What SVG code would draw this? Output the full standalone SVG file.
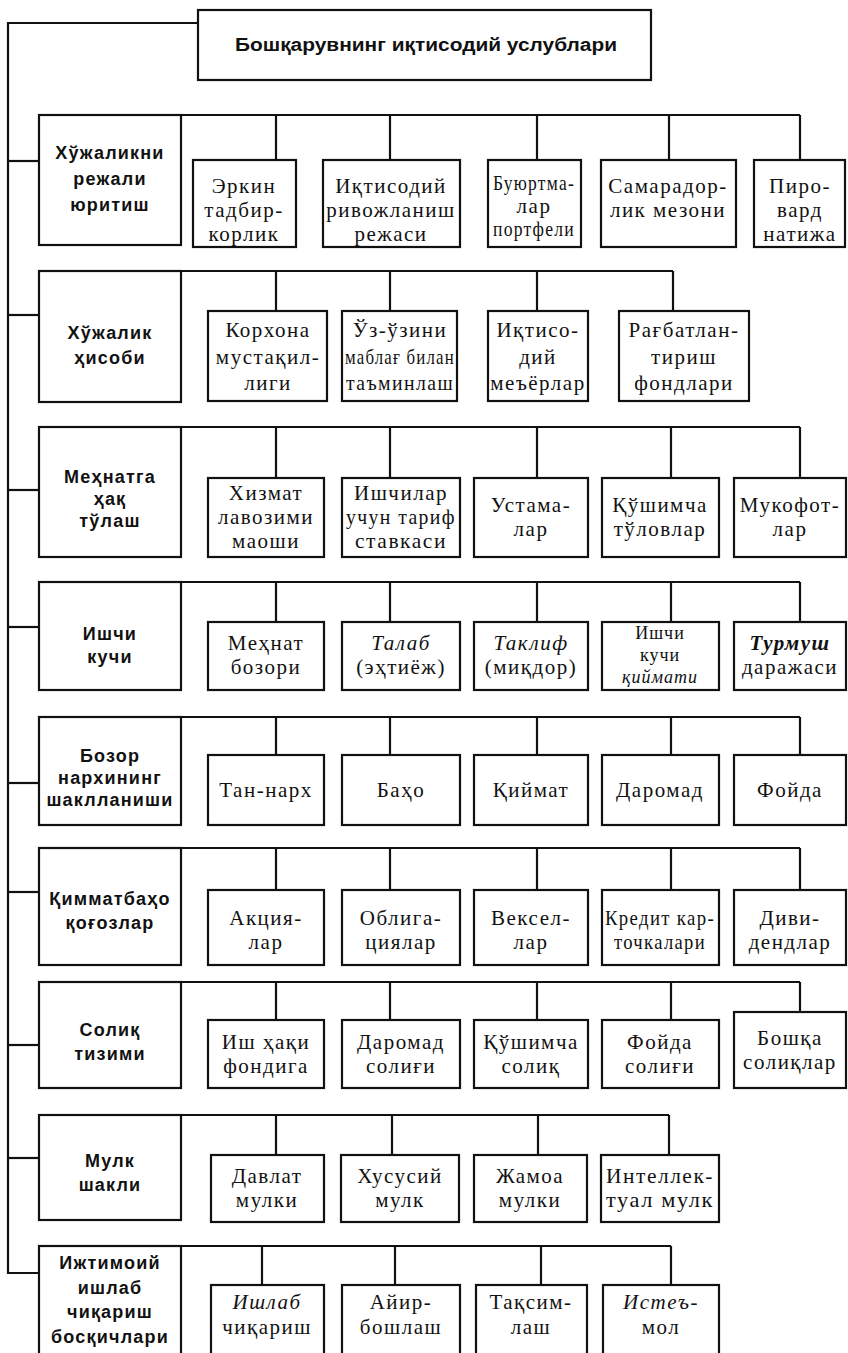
<svg xmlns="http://www.w3.org/2000/svg" width="848" height="1353" viewBox="0 0 848 1353">
<style>
.b{fill:#fff;stroke:#111;stroke-width:2.2}
.c line,.c polyline{stroke:#111;stroke-width:2.2;fill:none}
.t{font-family:"Liberation Serif","DejaVu Serif",serif;font-size:21px;letter-spacing:1.5px;text-anchor:middle;fill:#111}
.s{font-size:18px;letter-spacing:1px}
.h{font-family:"Liberation Sans","DejaVu Sans",sans-serif;font-size:18px;font-weight:bold;letter-spacing:1.2px;text-anchor:middle;fill:#111}
.i{font-style:italic}
.ttl{font-family:"Liberation Sans","DejaVu Sans",sans-serif;font-size:18px;font-weight:bold;text-anchor:middle;fill:#111}
</style>
<rect width="848" height="1353" fill="#fff"/>
<g class="c" id="connectors">
<polyline points="198,23 8,23 8,1273 39,1273"/>
<line x1="8" y1="161" x2="39" y2="161"/>
<line x1="8" y1="315" x2="39" y2="315"/>
<line x1="8" y1="490" x2="39" y2="490"/>
<line x1="8" y1="627" x2="39" y2="627"/>
<line x1="8" y1="783" x2="39" y2="783"/>
<line x1="8" y1="892" x2="39" y2="892"/>
<line x1="8" y1="1045" x2="39" y2="1045"/>
<line x1="8" y1="1158" x2="39" y2="1158"/>
<line x1="39" y1="115" x2="800" y2="115"/>
<line x1="276" y1="115" x2="276" y2="160"/><line x1="390" y1="115" x2="390" y2="160"/><line x1="537" y1="115" x2="537" y2="160"/><line x1="669" y1="115" x2="669" y2="160"/><line x1="800" y1="115" x2="800" y2="160"/>
<line x1="39" y1="271" x2="673" y2="271"/>
<line x1="276" y1="271" x2="276" y2="311"/><line x1="390" y1="271" x2="390" y2="311"/><line x1="537" y1="271" x2="537" y2="311"/><line x1="673" y1="271" x2="673" y2="311"/>
<line x1="39" y1="427" x2="800" y2="427"/>
<line x1="276" y1="427" x2="276" y2="478"/><line x1="390" y1="427" x2="390" y2="478"/><line x1="537" y1="427" x2="537" y2="478"/><line x1="671" y1="427" x2="671" y2="478"/><line x1="800" y1="427" x2="800" y2="478"/>
<line x1="39" y1="582" x2="800" y2="582"/>
<line x1="276" y1="582" x2="276" y2="622"/><line x1="390" y1="582" x2="390" y2="622"/><line x1="537" y1="582" x2="537" y2="622"/><line x1="671" y1="582" x2="671" y2="622"/><line x1="800" y1="582" x2="800" y2="622"/>
<line x1="39" y1="717" x2="800" y2="717"/>
<line x1="276" y1="717" x2="276" y2="755"/><line x1="390" y1="717" x2="390" y2="755"/><line x1="537" y1="717" x2="537" y2="755"/><line x1="671" y1="717" x2="671" y2="755"/><line x1="800" y1="717" x2="800" y2="755"/>
<line x1="39" y1="848" x2="800" y2="848"/>
<line x1="276" y1="848" x2="276" y2="890"/><line x1="390" y1="848" x2="390" y2="890"/><line x1="537" y1="848" x2="537" y2="890"/><line x1="671" y1="848" x2="671" y2="890"/><line x1="800" y1="848" x2="800" y2="890"/>
<line x1="39" y1="982" x2="800" y2="982"/>
<line x1="276" y1="982" x2="276" y2="1020"/><line x1="390" y1="982" x2="390" y2="1020"/><line x1="537" y1="982" x2="537" y2="1020"/><line x1="671" y1="982" x2="671" y2="1020"/><line x1="800" y1="982" x2="800" y2="1012"/>
<line x1="39" y1="1115" x2="669" y2="1115"/>
<line x1="276" y1="1115" x2="276" y2="1155"/><line x1="392" y1="1115" x2="392" y2="1155"/><line x1="538" y1="1115" x2="538" y2="1155"/><line x1="669" y1="1115" x2="669" y2="1155"/>
<line x1="39" y1="1246" x2="671" y2="1246"/>
<line x1="262" y1="1246" x2="262" y2="1285"/><line x1="395" y1="1246" x2="395" y2="1285"/><line x1="541" y1="1246" x2="541" y2="1285"/><line x1="671" y1="1246" x2="671" y2="1285"/>
</g>

<g id="title"><rect class="b" x="198" y="10" width="453" height="70"/>
<text class="ttl" x="426" y="51" textLength="382" lengthAdjust="spacingAndGlyphs">Бошқарувнинг  иқтисодий  услублари</text></g>

<g id="r1"><rect class="b" x="39" y="115" width="142" height="130"/>
<text class="h" x="110" y="159">Хўжаликни</text><text class="h" x="110" y="185">режали</text><text class="h" x="110" y="211">юритиш</text></g>
<g id="r1c1"><rect class="b" x="193" y="160" width="103" height="87"/>
<text class="t" x="244" y="193">Эркин</text><text class="t" x="244" y="217">тадбир-</text><text class="t" x="244" y="241">корлик</text></g>
<g id="r1c2"><rect class="b" x="323" y="160" width="137" height="87"/>
<text class="t" x="391" y="193">Иқтисодий</text><text class="t" x="391" y="217">ривожланиш</text><text class="t" x="391" y="241">режаси</text></g>
<g id="r1c3"><rect class="b" x="488" y="160" width="93" height="87"/>
<text class="t" x="534" y="190" textLength="82" lengthAdjust="spacingAndGlyphs">Буюртма-</text><text class="t" x="534" y="213">лар</text><text class="t" x="534" y="236" textLength="82" lengthAdjust="spacingAndGlyphs">портфели</text></g>
<g id="r1c4"><rect class="b" x="601" y="160" width="135" height="87"/>
<text class="t" x="668" y="193">Самарадор-</text><text class="t" x="668" y="217">лик мезони</text></g>
<g id="r1c5"><rect class="b" x="754" y="160" width="91" height="87"/>
<text class="t" x="800" y="193">Пиро-</text><text class="t" x="800" y="217">вард</text><text class="t" x="800" y="241">натижа</text></g>

<g id="r2"><rect class="b" x="39" y="271" width="142" height="131"/>
<text class="h" x="110" y="339">Хўжалик</text><text class="h" x="110" y="364">ҳисоби</text></g>
<g id="r2c1"><rect class="b" x="208" y="311" width="119" height="90"/>
<text class="t" x="268" y="337">Корхона</text><text class="t" x="268" y="364">мустақил-</text><text class="t" x="268" y="390">лиги</text></g>
<g id="r2c2"><rect class="b" x="342" y="311" width="115" height="90"/>
<text class="t" x="400" y="337">Ўз-ўзини</text><text class="t" x="400" y="364" textLength="110" lengthAdjust="spacingAndGlyphs">маблағ билан</text><text class="t" x="400" y="390" textLength="108" lengthAdjust="spacingAndGlyphs">таъминлаш</text></g>
<g id="r2c3"><rect class="b" x="488" y="311" width="100" height="90"/>
<text class="t" x="538" y="337">Иқтисо-</text><text class="t" x="538" y="364">дий</text><text class="t" x="538" y="390">меъёрлар</text></g>
<g id="r2c4"><rect class="b" x="619" y="311" width="130" height="90"/>
<text class="t" x="684" y="337">Рағбатлан-</text><text class="t" x="684" y="364">тириш</text><text class="t" x="684" y="390">фондлари</text></g>

<g id="r3"><rect class="b" x="39" y="427" width="142" height="130"/>
<text class="h" x="110" y="483">Меҳнатга</text><text class="h" x="110" y="505">ҳақ</text><text class="h" x="110" y="527">тўлаш</text></g>
<g id="r3c1"><rect class="b" x="208" y="478" width="116" height="79"/>
<text class="t" x="266" y="500">Хизмат</text><text class="t" x="266" y="524">лавозими</text><text class="t" x="266" y="548">маоши</text></g>
<g id="r3c2"><rect class="b" x="342" y="478" width="118" height="79"/>
<text class="t" x="401" y="500">Ишчилар</text><text class="t" x="401" y="524" textLength="110" lengthAdjust="spacingAndGlyphs">учун тариф</text><text class="t" x="401" y="548" textLength="92" lengthAdjust="spacingAndGlyphs">ставкаси</text></g>
<g id="r3c3"><rect class="b" x="474" y="478" width="114" height="79"/>
<text class="t" x="531" y="512">Устама-</text><text class="t" x="531" y="536">лар</text></g>
<g id="r3c4"><rect class="b" x="602" y="478" width="117" height="79"/>
<text class="t" x="660" y="512">Қўшимча</text><text class="t" x="660" y="536">тўловлар</text></g>
<g id="r3c5"><rect class="b" x="734" y="478" width="112" height="79"/>
<text class="t" x="790" y="512">Мукофот-</text><text class="t" x="790" y="536">лар</text></g>

<g id="r4"><rect class="b" x="39" y="582" width="142" height="108"/>
<text class="h" x="110" y="640">Ишчи</text><text class="h" x="110" y="663">кучи</text></g>
<g id="r4c1"><rect class="b" x="208" y="622" width="116" height="68"/>
<text class="t" x="266" y="650">Меҳнат</text><text class="t" x="266" y="674">бозори</text></g>
<g id="r4c2"><rect class="b" x="342" y="622" width="118" height="68"/>
<text class="t i" x="401" y="650">Талаб</text><text class="t" x="401" y="674">(эҳтиёж)</text></g>
<g id="r4c3"><rect class="b" x="474" y="622" width="114" height="68"/>
<text class="t i" x="531" y="650">Таклиф</text><text class="t" x="531" y="674">(миқдор)</text></g>
<g id="r4c4"><rect class="b" x="602" y="622" width="117" height="68"/>
<text class="t s" x="660" y="639">Ишчи</text><text class="t s" x="660" y="661">кучи</text><text class="t s i" x="660" y="683">қиймати</text></g>
<g id="r4c5"><rect class="b" x="734" y="622" width="112" height="68"/>
<text class="t i" x="790" y="650" font-weight="bold">Турмуш</text><text class="t" x="790" y="674">даражаси</text></g>

<g id="r5"><rect class="b" x="39" y="717" width="142" height="108"/>
<text class="h" x="110" y="762">Бозор</text><text class="h" x="110" y="784">нархининг</text><text class="h" x="110" y="806">шаклланиши</text></g>
<g id="r5c1"><rect class="b" x="208" y="755" width="116" height="70"/><text class="t" x="266" y="797">Тан-нарх</text></g>
<g id="r5c2"><rect class="b" x="342" y="755" width="118" height="70"/><text class="t" x="401" y="797">Баҳо</text></g>
<g id="r5c3"><rect class="b" x="474" y="755" width="114" height="70"/><text class="t" x="531" y="797">Қиймат</text></g>
<g id="r5c4"><rect class="b" x="602" y="755" width="117" height="70"/><text class="t" x="660" y="797">Даромад</text></g>
<g id="r5c5"><rect class="b" x="734" y="755" width="112" height="70"/><text class="t" x="790" y="797">Фойда</text></g>

<g id="r6"><rect class="b" x="39" y="848" width="142" height="117"/>
<text class="h" x="110" y="905">Қимматбаҳо</text><text class="h" x="110" y="929">қоғозлар</text></g>
<g id="r6c1"><rect class="b" x="208" y="890" width="116" height="75"/>
<text class="t" x="266" y="925">Акция-</text><text class="t" x="266" y="949">лар</text></g>
<g id="r6c2"><rect class="b" x="342" y="890" width="118" height="75"/>
<text class="t" x="401" y="925">Облига-</text><text class="t" x="401" y="949">циялар</text></g>
<g id="r6c3"><rect class="b" x="474" y="890" width="114" height="75"/>
<text class="t" x="531" y="925">Вексел-</text><text class="t" x="531" y="949">лар</text></g>
<g id="r6c4"><rect class="b" x="602" y="890" width="117" height="75"/>
<text class="t" x="660" y="925" textLength="110" lengthAdjust="spacingAndGlyphs">Кредит кар-</text><text class="t" x="660" y="949" textLength="92" lengthAdjust="spacingAndGlyphs">точкалари</text></g>
<g id="r6c5"><rect class="b" x="734" y="890" width="112" height="75"/>
<text class="t" x="790" y="925">Диви-</text><text class="t" x="790" y="949">дендлар</text></g>

<g id="r7"><rect class="b" x="39" y="982" width="142" height="106"/>
<text class="h" x="110" y="1036">Солиқ</text><text class="h" x="110" y="1060">тизими</text></g>
<g id="r7c1"><rect class="b" x="208" y="1020" width="116" height="68"/>
<text class="t" x="266" y="1049">Иш ҳақи</text><text class="t" x="266" y="1073">фондига</text></g>
<g id="r7c2"><rect class="b" x="342" y="1020" width="118" height="68"/>
<text class="t" x="401" y="1049">Даромад</text><text class="t" x="401" y="1073">солиғи</text></g>
<g id="r7c3"><rect class="b" x="474" y="1020" width="114" height="68"/>
<text class="t" x="531" y="1049">Қўшимча</text><text class="t" x="531" y="1073">солиқ</text></g>
<g id="r7c4"><rect class="b" x="602" y="1020" width="117" height="68"/>
<text class="t" x="660" y="1049">Фойда</text><text class="t" x="660" y="1073">солиғи</text></g>
<g id="r7c5"><rect class="b" x="734" y="1012" width="112" height="76"/>
<text class="t" x="790" y="1045">Бошқа</text><text class="t" x="790" y="1069">солиқлар</text></g>

<g id="r8"><rect class="b" x="39" y="1115" width="142" height="105"/>
<text class="h" x="110" y="1167">Мулк</text><text class="h" x="110" y="1191">шакли</text></g>
<g id="r8c1"><rect class="b" x="211" y="1155" width="113" height="67"/>
<text class="t" x="267" y="1183">Давлат</text><text class="t" x="267" y="1207">мулки</text></g>
<g id="r8c2"><rect class="b" x="341" y="1155" width="118" height="67"/>
<text class="t" x="400" y="1183">Хусусий</text><text class="t" x="400" y="1207">мулк</text></g>
<g id="r8c3"><rect class="b" x="474" y="1155" width="113" height="67"/>
<text class="t" x="530" y="1183">Жамоа</text><text class="t" x="530" y="1207">мулки</text></g>
<g id="r8c4"><rect class="b" x="601" y="1155" width="118" height="67"/>
<text class="t" x="660" y="1183" textLength="108" lengthAdjust="spacingAndGlyphs">Интеллек-</text><text class="t" x="660" y="1207" textLength="108" lengthAdjust="spacingAndGlyphs">туал мулк</text></g>

<g id="r9"><rect class="b" x="39" y="1246" width="142" height="120"/>
<text class="h" x="110" y="1269">Ижтимоий</text><text class="h" x="110" y="1294">ишлаб</text><text class="h" x="110" y="1318">чиқариш</text><text class="h" x="110" y="1343">босқичлари</text></g>
<g id="r9c1"><rect class="b" x="211" y="1285" width="113" height="80"/>
<text class="t i" x="267" y="1309">Ишлаб</text><text class="t" x="267" y="1334">чиқариш</text></g>
<g id="r9c2"><rect class="b" x="342" y="1285" width="118" height="80"/>
<text class="t" x="401" y="1309">Айир-</text><text class="t" x="401" y="1334">бошлаш</text></g>
<g id="r9c3"><rect class="b" x="476" y="1285" width="111" height="80"/>
<text class="t" x="531" y="1309">Тақсим-</text><text class="t" x="531" y="1334">лаш</text></g>
<g id="r9c4"><rect class="b" x="603" y="1285" width="116" height="80"/>
<text class="t i" x="661" y="1309">Истеъ-</text><text class="t" x="661" y="1334">мол</text></g>
</svg>
